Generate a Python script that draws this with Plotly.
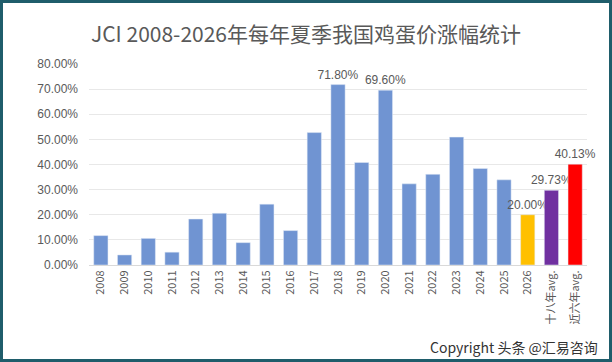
import plotly.graph_objects as go

categories = ["2008", "2009", "2010", "2011", "2012", "2013", "2014", "2015", "2016",
              "2017", "2018", "2019", "2020", "2021", "2022", "2023", "2024", "2025",
              "2026", "十八年avg.", "近六年avg."]
values = [11.7, 4.0, 10.6, 5.1, 18.3, 20.6, 8.9, 24.2, 13.7,
          52.7, 71.8, 40.8, 69.6, 32.3, 36.1, 50.9, 38.4, 33.9,
          20.0, 29.73, 40.13]
bar_colors = ["#7094d2"] * 18 + ["#ffc000", "#7030a0", "#ff0000"]
labelled = {"2018", "2020", "2026", "十八年avg.", "近六年avg."}
labels = [f"{v:.2f}%" if c in labelled else "" for c, v in zip(categories, values)]
y_ticks = [0, 10, 20, 30, 40, 50, 60, 70, 80]
y_ticktext = [f"{t:.2f}%" for t in y_ticks]

W, H = 612, 362
L, R, T, B = 89, 25, 64, 97
pw, ph = W - L - R, H - T - B

fig = go.Figure(go.Bar(
    x=categories, y=values, marker_color=bar_colors, width=0.6,
    text=labels, textposition="outside", cliponaxis=False, constraintext="none",
    textfont=dict(size=12, color="#595959", family="Liberation Sans, Arial"),
))

def px_x(p):
    return (p - L) / pw

def px_y(p):
    return 1 - (p - T) / ph

fig.update_layout(
    width=W, height=H,
    margin=dict(l=L, r=R, t=T, b=B),
    paper_bgcolor="white", plot_bgcolor="white",
    showlegend=False,
    title=dict(text="JCI 2008-2026年每年夏季我国鸡蛋价涨幅统计",
               x=0.5, xref="container", xanchor="center", y=1 - 35 / H, yanchor="middle",
               font=dict(size=21, color="#595959", family="Noto Sans CJK SC")),
    xaxis=dict(tickangle=-90, tickfont=dict(size=11, color="#595959", family="Noto Sans CJK SC"),
               showline=True, linecolor="#d9d9d9", linewidth=1, ticks="", showgrid=False),
    yaxis=dict(range=[0, 80], tickvals=y_ticks, ticktext=y_ticktext,
               tickfont=dict(size=12, color="#595959", family="Liberation Sans, Arial"),
               showgrid=True, gridcolor="#e8e8e8", zeroline=False, ticks="",
               ticklabelstandoff=10),
    bargap=0.4,
    shapes=[dict(type="rect", xref="paper", yref="paper",
                 x0=px_x(1.5), x1=px_x(W - 1.5), y0=px_y(1.5), y1=px_y(H - 1.5),
                 line=dict(color="#1f5d6b", width=3), fillcolor="rgba(0,0,0,0)", layer="above")],
    annotations=[dict(text="Copyright 头条 @汇易咨询", xref="paper", yref="paper",
                      x=px_x(600), y=px_y(347), xanchor="right", yanchor="middle",
                      showarrow=False,
                      font=dict(size=14, color="#333333", family="Noto Sans CJK SC"))],
)

fig.write_html("out.html")
